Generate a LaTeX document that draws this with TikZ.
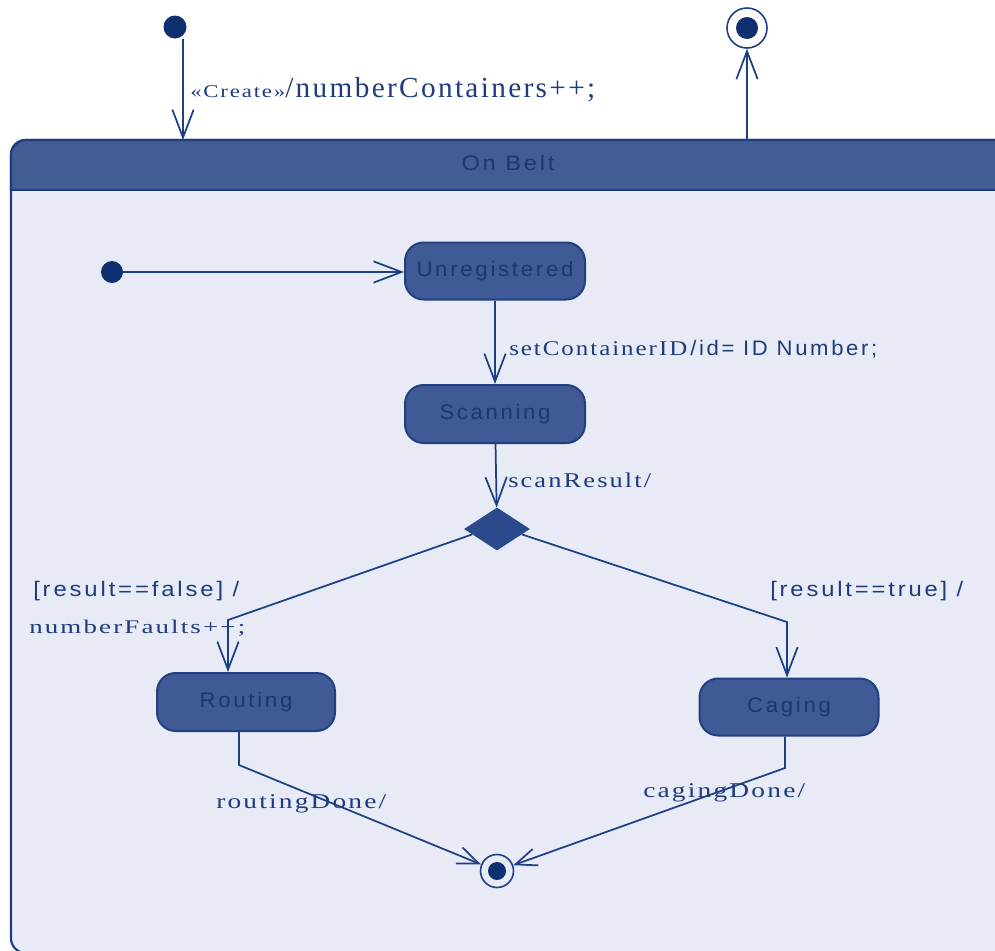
\documentclass[tikz,border=0pt]{standalone}
\usepackage{fontspec}
\usepackage{graphicx}
\setmainfont{Liberation Serif}
\newfontfamily\sansl[LetterSpace=12]{Liberation Sans}
\newfontfamily\serifl[LetterSpace=8]{Liberation Serif}
\usetikzlibrary{arrows.meta,shapes.geometric,calc}

\newlength\px \setlength\px{0.75pt}
% stretch a text horizontally to a given width in px
\newcommand\fitw[2]{\resizebox{#1\px}{\height}{#2}}

\definecolor{lineC}{HTML}{1C3F87}
\definecolor{dotC}{HTML}{0E2F70}
\definecolor{frameC}{HTML}{1E3C7E}
\definecolor{headC}{HTML}{435C93}
\definecolor{stateC}{HTML}{3F5A94}
\definecolor{stateB}{HTML}{213F82}
\definecolor{stateT}{HTML}{1F366E}
\definecolor{bodyC}{HTML}{E8EBF5}
\definecolor{textC}{HTML}{1D3B7E}
\definecolor{choiceC}{HTML}{2B4A8E}

\begin{document}
\begin{tikzpicture}[x=0.75pt,y=-0.75pt,
  tr/.style={draw=lineC, line width=1.3pt, -{Straight Barb[length=21pt,width=16pt]}},
  trs/.style={draw=lineC, line width=1.3pt, -{Straight Barb[length=16pt,width=13pt]}},
  dot/.style={circle, fill=dotC, inner sep=0pt},
  finalst/.style={circle, draw=lineC, line width=1.2pt, inner sep=0pt},
  inner dot/.style={path picture={\fill[dotC] (path picture bounding box.center) circle (#1);}},
  state/.style={rounded corners=14pt, fill=stateC, draw=stateB, line width=1.5pt,
    minimum width=180\px, minimum height=57\px, inner sep=0pt, text=stateT,
    font=\sansl\fontsize{15.75pt}{18pt}\selectfont},
  choice/.style={diamond, fill=choiceC, inner sep=0pt, minimum width=66\px, minimum height=43\px},
  lbl/.style={inner sep=0pt, text=textC, anchor=base west},
  sanslbl/.style={lbl, font=\sansl\fontsize{15.75pt}{18pt}\selectfont},
  seriflbl/.style={lbl, font=\serifl\fontsize{15.75pt}{18pt}\selectfont}
]
\useasboundingbox (0,0) rectangle (995,950);
\fill[white] (0,0) rectangle (995,950);

% composite state "On Belt"
\begin{scope}
  \clip (0,0) rectangle (995,950);
  \path[fill=bodyC, draw=frameC, line width=1.6pt, rounded corners=11pt] (11,140) rectangle (1010,953);
  \begin{scope}
    \clip (0,0) rectangle (1100,190);
    \path[fill=headC, draw=frameC, line width=1.6pt, rounded corners=11pt] (11,140) rectangle (1010,953);
  \end{scope}
  \draw[frameC, line width=1.2pt] (11,190) -- (1010,190);
\end{scope}
\node[text=stateT, inner sep=0pt, font=\sansl\fontsize{15.75pt}{18pt}\selectfont] (onbelt) at (508,163) {\fitw{93}{On Belt}};

% outer initial and final states
\node[dot, minimum size=23\px] (init0) at (175,27) {};
\coordinate (entry) at (183,140);
\draw[tr] (init0.south -| entry) -- (entry);
\node[lbl, font=\serifl\fontsize{13.5pt}{15pt}\selectfont] (lcreate) at (190,97) {\fitw{95}{«Create»}};
\node[lbl, font=\serifl\fontsize{21.75pt}{24pt}\selectfont] (lcount) at (285,97) {\fitw{310}{/numberContainers++;}};

\node[finalst, minimum size=40\px, inner dot=8.25pt] (fin0) at (747,28) {};
\coordinate (exit) at (747,140);
\draw[tr] (exit) -- (fin0);

% inner states
\node[dot, minimum size=22\px] (init1) at (112,272) {};
\node[state] (unreg) at (495,271) {\fitw{157}{Unregistered}};
\node[state, minimum height=58\px] (scan) at (495,414) {\fitw{111}{Scanning}};
\node[choice] (dia) at (497,529) {};
\node[state, minimum width=178\px, minimum height=58\px] (rout) at (246,702) {\fitw{93}{Routing}};
\node[state, minimum width=179\px] (cag) at (789,707) {\fitw{84}{Caging}};
\node[finalst, minimum size=33\px, inner dot=6.75pt] (fin1) at (497,871) {};

% transitions
\draw[tr] (init1) -- (unreg.west |- init1);
\draw[tr] (unreg) -- (scan);
\node[seriflbl] (lset) at (509,355) {\fitw{178}{setContainerID}};
\node[sanslbl] (lid) at (690,355) {\fitw{187}{/id= ID Number;}};

\draw[tr] (scan) -- (dia);
\node[seriflbl] (lscan) at (508,487) {\fitw{143}{scanResult/}};

\coordinate (bendL) at (228,620);
\draw[tr] ($(dia.west)!0.25!(dia.south)$) -- (bendL) -- (bendL |- rout.north);
\node[sanslbl] (lfalse) at (33,596) {\fitw{206}{[result==false] /}};
\node[lbl, font=\serifl\fontsize{14.5pt}{16pt}\selectfont] (lfaults) at (29,633) {\fitw{216}{numberFaults++;}};

\coordinate (bendR) at (787,622);
\draw[tr] ($(dia.east)!0.25!(dia.south)$) -- (bendR) -- (bendR |- cag.north);
\node[sanslbl] (ltrue) at (770,596) {\fitw{193}{[result==true] /}};

\coordinate (bendRo) at (239,765);
\draw[trs] (bendRo |- rout.south) -- (bendRo) -- (fin1);
\node[seriflbl] (lrdone) at (216,808) {\fitw{170}{routingDone/}};

\coordinate (bendCa) at (785,768);
\draw[trs] (bendCa |- cag.south) -- (bendCa) -- (fin1);
\node[seriflbl] (lcdone) at (643,797) {\fitw{162}{cagingDone/}};
\end{tikzpicture}
\end{document}
